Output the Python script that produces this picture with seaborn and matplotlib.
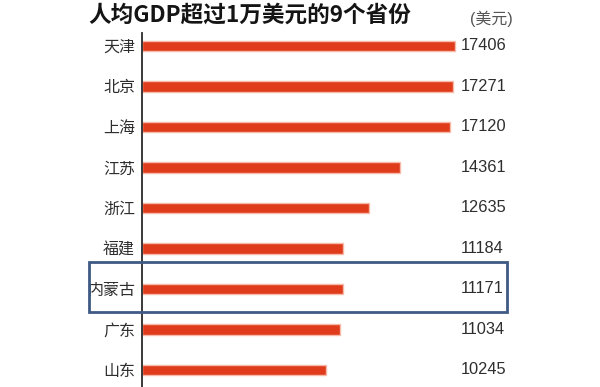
import matplotlib
matplotlib.use("Agg")
import matplotlib.pyplot as plt
import matplotlib.patches as patches
import pandas as pd
import seaborn as sns

# Data
provinces = ['天津', '北京', '上海', '江苏', '浙江', '福建', '内蒙古', '广东', '山东']
gdp_per_capita = [17406, 17271, 17120, 14361, 12635, 11184, 11171, 11034, 10245]
title = '人均GDP超过1万美元的9个省份'
unit = '(美元)'
highlight = '内蒙古'

sns.set_theme(style='white')
plt.rcParams['font.family'] = ['Liberation Sans', 'Noto Sans CJK SC', 'DejaVu Sans']

df = pd.DataFrame({'province': provinces, 'gdp': gdp_per_capita})

W, H = 600, 387
fig = plt.figure(figsize=(6, 3.87), dpi=100)
fig.patch.set_facecolor('white')

# axes: left edge at the axis line, runs to the bottom of the picture
ax = fig.add_axes([142 / W, 0, 1 - 142 / W, (H - 33) / H])

sns.barplot(data=df, y='province', x='gdp', orient='h', color='#e03c1c',
            width=0.25, saturation=1, ax=ax, edgecolor='#f7b9a8', linewidth=1.0)

px_per_unit = (455 - 142) / 17406
ax.set_xlim(0, (W - 142) / px_per_unit)
ax.set_ylim(8.42, -0.32)

for s in ['top', 'right', 'bottom']:
    ax.spines[s].set_visible(False)
ax.spines['left'].set_color('#2b2b2b')
ax.spines['left'].set_linewidth(1.3)

ax.set_xticks([])
ax.set_xlabel('')
ax.set_ylabel('')
ax.tick_params(axis='y', length=0, pad=5, labelsize=11.5, labelcolor='#2e2e2e')

# value labels in a fixed column
col_x = (461 - 142) / px_per_unit
for i, v in enumerate(gdp_per_capita):
    ax.text(col_x, i, str(v), va='center', ha='left', fontsize=11.8, color='#2e2e2e')

# highlight box around one province
box = patches.Rectangle((89 / W, 1 - 312 / H), (507 - 89) / W, (312 - 262) / H,
                        transform=fig.transFigure, fill=False,
                        edgecolor='#3f5a84', linewidth=2)
fig.patches.append(box)

fig.text(88 / W, 1 - 15 / H, title, ha='left', va='center', fontsize=16.3,
         fontweight='bold', color='#141414', family=['Noto Sans CJK SC', 'DejaVu Sans'])
fig.text(470 / W, 1 - 19 / H, unit, ha='left', va='center', fontsize=11.5,
         color='#555555')

fig.savefig('out.png', dpi=100, facecolor='white')
